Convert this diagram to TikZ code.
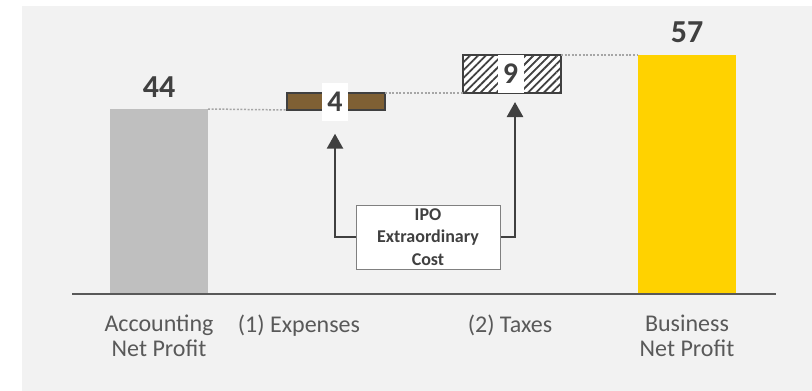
\documentclass[tikz,border=0pt]{standalone}
\usepackage{fontspec}
\setmainfont{Carlito}
\usetikzlibrary{arrows.meta,patterns.meta}
\definecolor{panel}{HTML}{F2F2F2}
\definecolor{barGray}{HTML}{BFBFBF}
\definecolor{barGold}{HTML}{FFD200}
\definecolor{barBrown}{HTML}{7F6034}
\definecolor{ink}{HTML}{404040}
\definecolor{catInk}{HTML}{595959}
\definecolor{dotGray}{HTML}{A6A6A6}
\definecolor{boxEdge}{HTML}{808080}
\tikzset{
  bar/.style={rectangle, inner sep=0pt, outer sep=0pt},
  stepbar/.style={bar, draw=ink, line width=2pt},
  valuetag/.style={rectangle, fill=white, inner sep=0pt, minimum width=26pt, minimum height=38pt,
    text=ink, font=\bfseries\fontsize{30}{30}\selectfont},
  totaltag/.style={inner sep=0pt, text=ink, font=\bfseries\fontsize{32}{32}\selectfont},
  category/.style={inner sep=0pt, anchor=north, align=center, text=catInk,
    font=\fontsize{24}{25}\selectfont},
  linker/.style={draw=dotGray, line width=1.5pt, dash pattern=on 2pt off 1.6pt},
  pointer/.style={draw=ink, line width=2.6pt, -{Triangle[width=16pt,length=15pt]}},
  costbox/.style={draw=boxEdge, line width=1pt, fill=white, minimum width=144pt, minimum height=64pt,
    inner sep=0pt, align=center, text=ink, font=\bfseries\fontsize{18}{22.5}\selectfont}
}
\begin{document}
\begin{tikzpicture}[x=1pt,y=-1pt]
  \useasboundingbox (0,0) rectangle (812,391);
  \fill[panel] (22,6) rectangle (812,391);

  % waterfall bars
  \node[bar, fill=barGray, minimum width=98pt, minimum height=185pt] (acc) at (159,201.5) {};
  \node[stepbar, fill=barBrown, minimum width=98pt, minimum height=17pt] (exp) at (336,101.5) {};
  \node[stepbar, preaction={fill=white},
        pattern={Lines[angle=45,distance=5.6pt,line width=1.8pt]}, pattern color=ink,
        minimum width=98pt, minimum height=38pt] (tax) at (512,74) {};
  \node[bar, fill=barGold, minimum width=98pt, minimum height=239pt] (biz) at (687,174.5) {};

  % connectors between bar levels
  \draw[linker] (acc.north east) -- (exp.south west);
  \draw[linker] (exp.north east) -- (tax.south west);
  \draw[linker] (tax.north east) -- (biz.north west);

  % value labels
  \node[totaltag] (v44) at (159,87) {44};
  \node[totaltag] (v57) at (687,32) {57};
  \node[valuetag] (v4) at (335,101.5) {4};
  \node[valuetag] (v9) at (510.5,74) {9};

  % axis
  \coordinate (axL) at (72,294);
  \coordinate (axR) at (776,294);
  \draw[catInk, line width=2pt] (axL) -- (axR);

  % category labels
  \node[category] (cA) at (159,315) {Accounting\\Net Profit};
  \node[category] (cE) at (299,315) {(1) Expenses};
  \node[category] (cT) at (510,315) {(2) Taxes};
  \node[category] (cB) at (687,315) {Business\\Net Profit};

  % extraordinary cost pointers
  \node[costbox] (ipo) at (428,237) {IPO\\Extraordinary\\Cost};
  \draw[pointer, shorten >=13pt] (ipo.west) -| (v4.south);
  \draw[pointer, shorten >=9pt] (ipo.east) -| ([xshift=3pt]tax.south);
\end{tikzpicture}
\end{document}
